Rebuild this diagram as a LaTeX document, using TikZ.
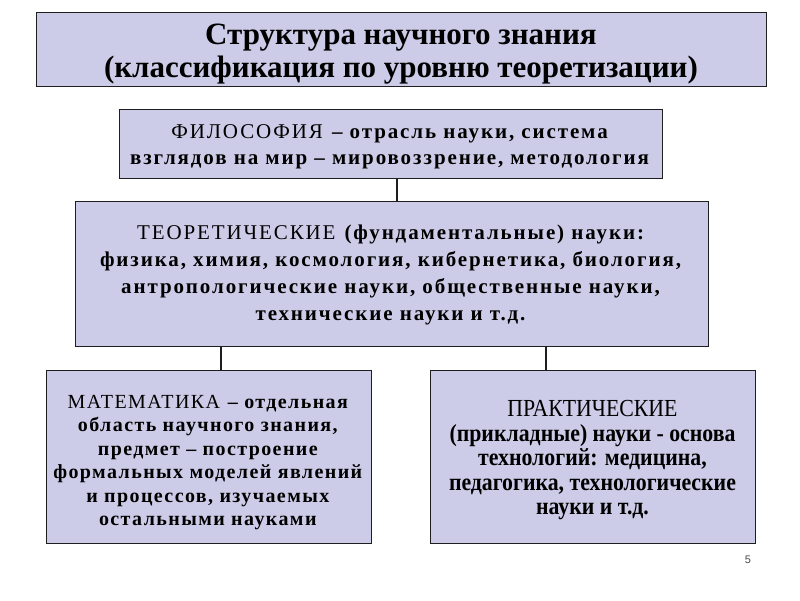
\documentclass[tikz,border=0pt]{standalone}
\usepackage{fontspec}
\setmainfont{Liberation Serif}
\newfontfamily\spaced{Liberation Serif}[LetterSpace=9]
\newfontfamily\mspaced{Liberation Serif}[LetterSpace=7]
\newfontfamily\narrow{Liberation Serif}[FakeStretch=0.89]
\newfontfamily\pgnum{Liberation Sans}
\definecolor{boxfill}{RGB}{204,204,232}
\definecolor{boxline}{RGB}{30,30,30}
\tikzset{
  panel/.style={draw=boxline, line width=0.9pt, fill=boxfill, rectangle, inner sep=0pt},
  txt/.style={align=center, inner sep=0pt},
  link/.style={draw=boxline, line width=1.2pt},
}
\begin{document}
\begin{tikzpicture}[x=1pt,y=-1pt]
\useasboundingbox (0,0) rectangle (800,600);
\fill[white] (0,0) rectangle (800,600);
% boxes
\node[panel, minimum width=730pt, minimum height=74pt] (title) at (401,49) {};
\node[panel, minimum width=543pt, minimum height=69pt] (phil) at (390.5,143.5) {};
\node[panel, minimum width=633pt, minimum height=145pt] (theo) at (391.5,273.5) {};
\node[panel, minimum width=325pt, minimum height=173pt] (math) at (208.5,456.5) {};
\node[panel, minimum width=325pt, minimum height=173pt] (prac) at (592.5,456.5) {};
% texts
\node[txt, font=\fontsize{31}{33}\selectfont\bfseries] (titletxt) at ([yshift=-5.5pt]title.center)
  {Структура научного знания\\(классификация по уровню теоретизации)};
\node[txt, font=\spaced\fontsize{21}{26}\selectfont] (philtxt) at ([yshift=-3.5pt]phil.center)
  {ФИЛОСОФИЯ \textbf{– отрасль науки, система}\\\textbf{взглядов на мир – мировоззрение, методология}};
\node[txt, font=\spaced\fontsize{21}{27.2}\selectfont] (theotxt) at ([yshift=-1.5pt]theo.center)
  {ТЕОРЕТИЧЕСКИЕ \textbf{(фундаментальные) науки:}\\\textbf{физика, химия, космология, кибернетика, биология,}\\\textbf{антропологические науки, общественные науки,}\\\textbf{технические науки и т.д.}};
\node[txt, font=\mspaced\fontsize{20}{23.4}\selectfont] (mathtxt) at ([yshift=-6pt]math.center)
  {МАТЕМАТИКА \textbf{– отдельная}\\\textbf{область научного знания,}\\\textbf{предмет – построение}\\\textbf{формальных моделей явлений}\\\textbf{и процессов, изучаемых}\\\textbf{остальными науками}};
\node[txt, font=\narrow\fontsize{24.5}{24.5}\selectfont] (practxt) at ([yshift=-4pt]prac.center)
  {ПРАКТИЧЕСКИЕ\\\textbf{(прикладные) науки - основа}\\\textbf{технологий: медицина,}\\\textbf{педагогика, технологические}\\\textbf{науки и т.д.}};
\node[font=\pgnum\fontsize{11}{13}\selectfont, text=black!70] (pg) at (748,560) {5};
% connectors
\coordinate (c1) at (397,0);
\coordinate (c2) at (221,0);
\coordinate (c3) at (546,0);
\draw[link] (phil.south -| c1) -- (theo.north -| c1);
\draw[link] (theo.south -| c2) -- (math.north -| c2);
\draw[link] (theo.south -| c3) -- (prac.north -| c3);
\end{tikzpicture}
\end{document}
